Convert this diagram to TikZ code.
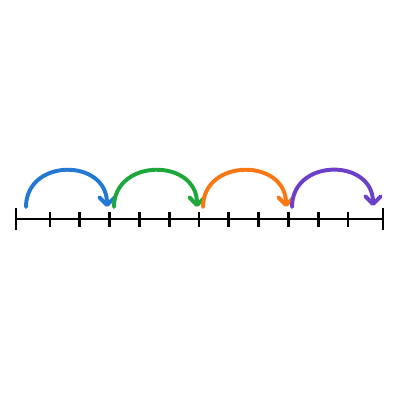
\documentclass[tikz,border=0pt]{standalone}
\usepackage{xcolor}
\usetikzlibrary{arrows.meta}

\definecolor{hopblue}{RGB}{34,120,210}
\definecolor{hopgreen}{RGB}{30,168,60}
\definecolor{hoporange}{RGB}{250,120,20}
\definecolor{hoppurple}{RGB}{108,64,200}

\begin{document}
\begin{tikzpicture}[
    x=0.025cm, y=-0.025cm,
    axis/.style={line width=1.9pt, line cap=butt},
    hop/.style={line width=2.8pt, line cap=round,
                -{Straight Barb[length=5.5pt, width=11pt, round]}}
]
    \useasboundingbox (0,0) rectangle (400,400);

    % number line
    \coordinate (lft) at (16,219);
    \coordinate (rgt) at (383,219);
    \draw[axis] (lft) -- (rgt);
    \draw[axis] (16,208) -- (16,230);
    \draw[axis] (383,208) -- (383,230);
    \foreach \k in {0,...,10}
        \draw[axis] ({50+29.8*\k},212) -- ({50+29.8*\k},227);

    % jumps
    \coordinate (a0) at (26,207);
    \coordinate (a1) at (107,207);
    \coordinate (b0) at (114,207);
    \coordinate (b1) at (197,207);
    \coordinate (c0) at (203,207);
    \coordinate (c1) at (286,207);
    \coordinate (d0) at (292,207);
    \coordinate (d1) at (373,206);

    \draw[hop, hopblue]   (a0) .. controls (26,158) and (107,158) .. (a1);
    \draw[hop, hopgreen]  (b0) .. controls (114,158) and (197,158) .. (b1);
    \draw[hop, hoporange] (c0) .. controls (203,158) and (286,158) .. (c1);
    \draw[hop, hoppurple] (d0) .. controls (292,158) and (373,158) .. (d1);
\end{tikzpicture}
\end{document}
